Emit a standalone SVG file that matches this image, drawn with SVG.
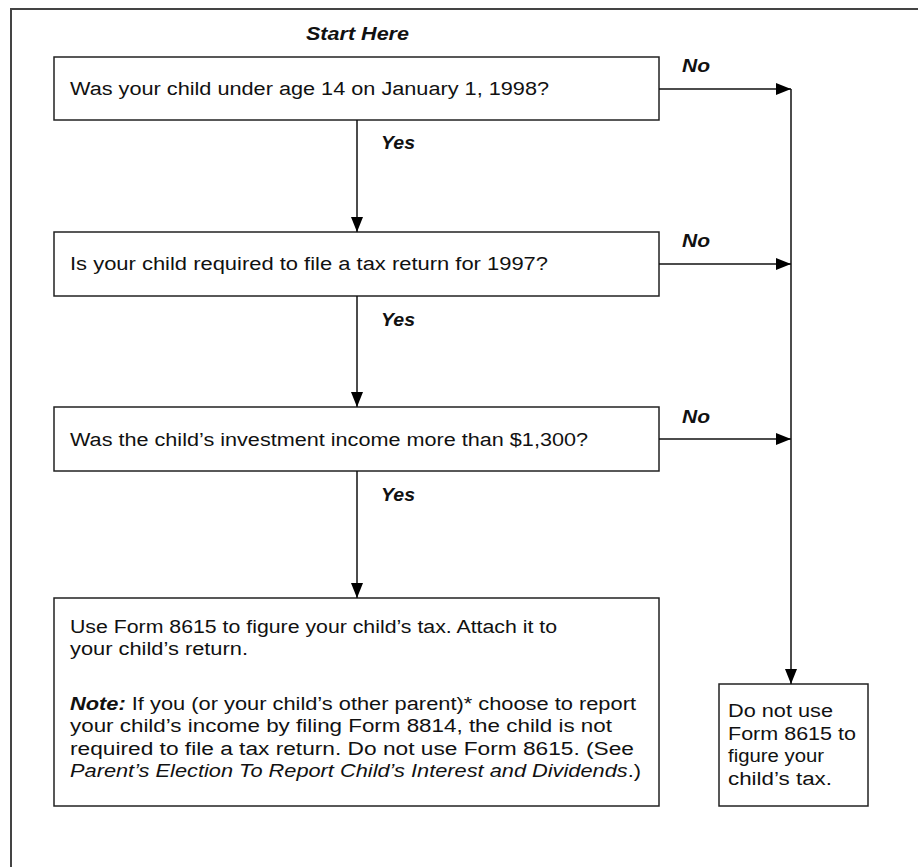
<svg xmlns="http://www.w3.org/2000/svg" width="918" height="867" viewBox="0 0 918 867">
<style>
.box{fill:#fff;stroke:#222;stroke-width:1.5}
.t{font-family:"Liberation Sans",Arial,sans-serif;font-size:18px;fill:#111}
.bi{font-family:"Liberation Sans",Arial,sans-serif;font-size:18px;font-weight:bold;font-style:italic;fill:#111}
.ln{stroke:#111;stroke-width:1.5;fill:none}
</style>
<defs>
<marker id="ah" markerWidth="16" markerHeight="12" refX="15" refY="6" orient="auto" markerUnits="userSpaceOnUse">
<path d="M0,0 L15,6 L0,12 Z" fill="#000"/>
</marker>
</defs>
<rect width="918" height="867" fill="#fff"/>
<path d="M11,867 V9 H918" fill="none" stroke="#444" stroke-width="2"/>
<text class="bi" x="306" y="40" textLength="103" lengthAdjust="spacingAndGlyphs">Start Here</text>
<g id="q1"><rect class="box" x="54" y="57" width="605" height="63"/><text class="t" x="70" y="95" textLength="479" lengthAdjust="spacingAndGlyphs">Was your child under age 14 on January 1, 1998?</text></g>
<g id="q2"><rect class="box" x="54" y="232" width="605" height="64"/><text class="t" x="70" y="270" textLength="478" lengthAdjust="spacingAndGlyphs">Is your child required to file a tax return for 1997?</text></g>
<g id="q3"><rect class="box" x="54" y="407" width="605" height="64"/><text class="t" x="70" y="446" textLength="518" lengthAdjust="spacingAndGlyphs">Was the child’s investment income more than $1,300?</text></g>
<g id="r1"><rect class="box" x="54" y="598" width="605" height="208"/>
<text class="t" x="70" y="633" textLength="487" lengthAdjust="spacingAndGlyphs">Use Form 8615 to figure your child’s tax. Attach it to</text>
<text class="t" x="70" y="655" textLength="178" lengthAdjust="spacingAndGlyphs">your child’s return.</text>
<text class="t" x="70" y="710" textLength="566" lengthAdjust="spacingAndGlyphs"><tspan font-weight="bold" font-style="italic">Note:</tspan> If you (or your child’s other parent)* choose to report</text>
<text class="t" x="70" y="732" textLength="542" lengthAdjust="spacingAndGlyphs">your child’s income by filing Form 8814, the child is not</text>
<text class="t" x="70" y="755" textLength="564" lengthAdjust="spacingAndGlyphs">required to file a tax return. Do not use Form 8615. (See</text>
<text class="t" x="70" y="777" textLength="571" lengthAdjust="spacingAndGlyphs"><tspan font-style="italic">Parent’s Election To Report Child’s Interest and Dividends</tspan>.)</text>
</g>
<g id="r2"><rect class="box" x="719" y="684" width="149" height="122"/>
<text class="t" x="728" y="717" textLength="105" lengthAdjust="spacingAndGlyphs">Do not use</text>
<text class="t" x="728" y="740" textLength="128" lengthAdjust="spacingAndGlyphs">Form 8615 to</text>
<text class="t" x="728" y="762" textLength="96" lengthAdjust="spacingAndGlyphs">figure your</text>
<text class="t" x="728" y="785" textLength="104" lengthAdjust="spacingAndGlyphs">child’s tax.</text>
</g>
<g id="connectors">
<path class="ln" d="M357,120 V232" marker-end="url(#ah)"/>
<path class="ln" d="M357,296 V407" marker-end="url(#ah)"/>
<path class="ln" d="M357,471 V598" marker-end="url(#ah)"/>
<path class="ln" d="M659,89 H791" marker-end="url(#ah)"/>
<path class="ln" d="M659,264 H791" marker-end="url(#ah)"/>
<path class="ln" d="M659,439 H791" marker-end="url(#ah)"/>
<path class="ln" d="M791,89 V684" marker-end="url(#ah)"/>
<text class="bi" x="381" y="149" textLength="34" lengthAdjust="spacingAndGlyphs">Yes</text>
<text class="bi" x="381" y="326" textLength="34" lengthAdjust="spacingAndGlyphs">Yes</text>
<text class="bi" x="381" y="501" textLength="34" lengthAdjust="spacingAndGlyphs">Yes</text>
<text class="bi" x="682" y="72" textLength="28" lengthAdjust="spacingAndGlyphs">No</text>
<text class="bi" x="682" y="247" textLength="28" lengthAdjust="spacingAndGlyphs">No</text>
<text class="bi" x="682" y="423" textLength="28" lengthAdjust="spacingAndGlyphs">No</text>
</g>
</svg>
